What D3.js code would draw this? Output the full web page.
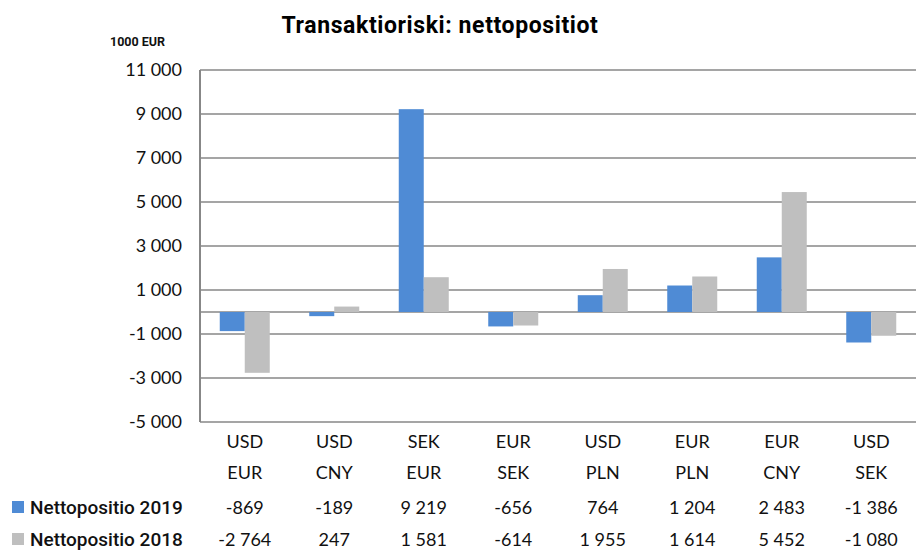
<!DOCTYPE html>
<html><head><meta charset="utf-8">
<script src="https://cdn.jsdelivr.net/npm/d3@7/dist/d3.min.js"></script>
<style>body{margin:0;background:#fff}svg{display:block}</style>
</head><body>
<svg id="c" width="917" height="551"></svg>
<script>
const catTop = ["USD","USD","SEK","EUR","USD","EUR","EUR","USD"];
const catBottom = ["EUR","CNY","EUR","SEK","PLN","PLN","CNY","SEK"];
const series2019 = [-869,-189,9219,-656,764,1204,2483,-1386];
const series2018 = [-2764,247,1581,-614,1955,1614,5452,-1080];
const seriesNames = ["Nettopositio 2019","Nettopositio 2018"];
const tableLabels2019 = ["-869","-189","9 219","-656","764","1 204","2 483","-1 386"];
const tableLabels2018 = ["-2 764","247","1 581","-614","1 955","1 614","5 452","-1 080"];
const yTicks = [11000,9000,7000,5000,3000,1000,-1000,-3000,-5000];
const yTickLabels = ["11 000","9 000","7 000","5 000","3 000","1 000","-1 000","-3 000","-5 000"];
const colors = ["#4f8bd5","#bfbfbf"];

const svg = d3.select("#c");
const L=200, R=916, T=70, B=422;
const idx = d3.range(catTop.length);
const x = d3.scaleBand().domain(idx).range([L,R]).paddingInner(0).paddingOuter(0);
const y = d3.scaleLinear().domain([-5000,11000]).range([B,T]);
const bw = 25;
const gridC = "#878787";
const numFont = "Lato, 'Open Sans', sans-serif";

// gridlines
svg.append("g").selectAll("line").data(yTicks).join("line")
  .attr("x1",L).attr("x2",R).attr("y1",d=>y(d)).attr("y2",d=>y(d))
  .attr("stroke",gridC).attr("stroke-width",1.6);
// zero line
svg.append("line").attr("x1",L).attr("x2",R).attr("y1",y(0)).attr("y2",y(0))
  .attr("stroke",gridC).attr("stroke-width",1.6);
// left axis
svg.append("line").attr("x1",L).attr("x2",L).attr("y1",T).attr("y2",B)
  .attr("stroke",gridC).attr("stroke-width",2);

// bars
const data = [series2019, series2018];
data.forEach((s,si)=>{
  svg.append("g").selectAll("rect").data(s).join("rect")
    .attr("x",(d,i)=>x(i)+x.bandwidth()/2 - bw + si*bw)
    .attr("width",bw)
    .attr("y",d=>Math.min(y(d),y(0)))
    .attr("height",d=>Math.abs(y(d)-y(0)))
    .attr("fill",colors[si]);
});

// y axis labels
const ya = d3.axisLeft(y).tickValues(yTicks).tickFormat((d,i)=>yTickLabels[i]).tickSize(0).tickPadding(18);
const yg = svg.append("g").attr("transform",`translate(${L},0)`).call(ya);
yg.select(".domain").remove();
yg.selectAll("text").attr("font-family",numFont).attr("font-size",18).attr("fill","#111");

// category labels (two rows) and data table via bottom axis
function catAxis(labels, yPos){
  const a = d3.axisBottom(x).tickFormat(i=>labels[i]).tickSize(0).tickPadding(0);
  const g = svg.append("g").attr("transform",`translate(0,${yPos})`).call(a);
  g.select(".domain").remove();
  g.selectAll("text").attr("font-family",numFont).attr("font-size",18).attr("fill","#111").attr("dy","0");
}
catAxis(catTop, 448);
catAxis(catBottom, 479);
catAxis(tableLabels2019, 514);
catAxis(tableLabels2018, 546);

// legend entries
const legY = [507,539];
seriesNames.forEach((n,i)=>{
  svg.append("rect").attr("x",12).attr("y",legY[i]-6).attr("width",12).attr("height",12).attr("fill",colors[i]);
  svg.append("text").attr("x",30).attr("y",legY[i]+7).text(n)
    .attr("font-family","Roboto, sans-serif").attr("font-weight",500).attr("font-size",19).attr("fill","#111");
});

// title
svg.append("text").attr("x",440).attr("y",33).attr("text-anchor","middle")
  .text("Transaktioriski: nettopositiot")
  .attr("font-family","Roboto, sans-serif").attr("font-weight",700).attr("font-size",23)
  .attr("letter-spacing",0.6).attr("fill","#000");
// unit
svg.append("text").attr("x",110).attr("y",46).text("1000 EUR")
  .attr("font-family","Roboto, sans-serif").attr("font-weight",700).attr("font-size",12.5).attr("fill","#111");
</script>
</body></html>
